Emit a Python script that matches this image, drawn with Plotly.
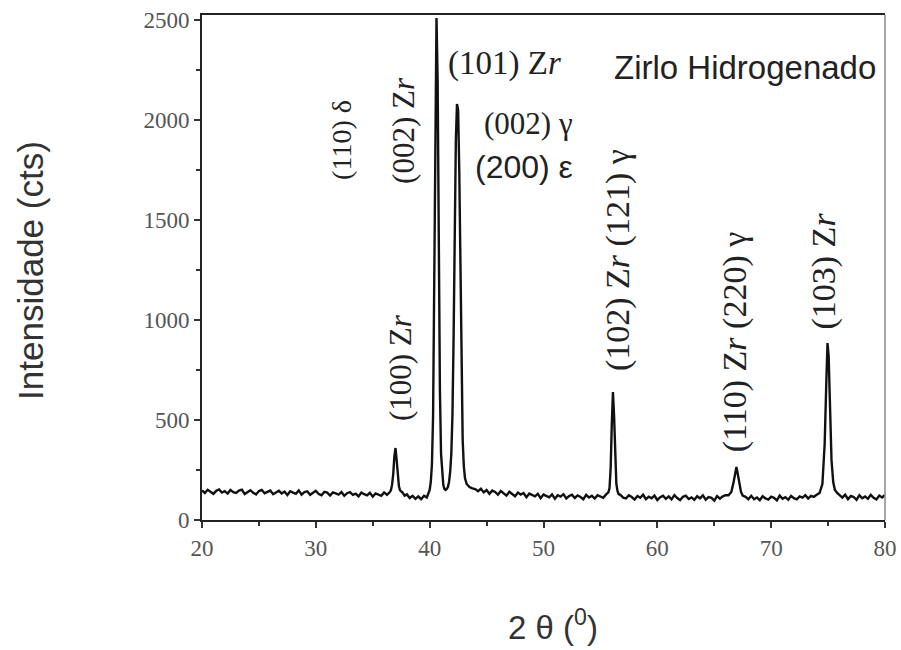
import plotly.graph_objects as go

# 2-theta positions (degrees) and measured counts of the XRD pattern
two_theta = [
    20.0, 20.25, 20.5, 20.75, 21.0, 21.25, 21.5, 21.75, 22.0, 22.25, 22.5, 22.75,
    23.0, 23.25, 23.5, 23.75, 24.0, 24.25, 24.5, 24.75, 25.0, 25.25, 25.5, 25.75,
    26.0, 26.25, 26.5, 26.75, 27.0, 27.25, 27.5, 27.75, 28.0, 28.25, 28.5, 28.75,
    29.0, 29.25, 29.5, 29.75, 30.0, 30.25, 30.5, 30.75, 31.0, 31.25, 31.5, 31.75,
    32.0, 32.25, 32.5, 32.75, 33.0, 33.25, 33.5, 33.75, 34.0, 34.25, 34.5, 34.75,
    35.0, 35.25, 35.5, 35.75, 36.0, 36.25, 36.5,
    36.6, 36.7, 36.8, 36.9, 37.0, 37.1, 37.2, 37.3, 37.4, 37.6, 37.8,
    38.0, 38.25, 38.5, 38.75, 39.0, 39.25, 39.5, 39.75, 40.0,
    40.1, 40.2, 40.3, 40.4, 40.5, 40.6, 40.7, 40.8, 40.9, 41.0, 41.1, 41.2, 41.3,
    41.4, 41.5, 41.6, 41.7, 41.8, 41.9, 42.0, 42.1, 42.2, 42.3, 42.4, 42.5, 42.6,
    42.7, 42.8, 42.9, 43.0, 43.1, 43.25, 43.5, 43.75, 44.0,
    44.25, 44.5, 44.75, 45.0, 45.25, 45.5, 45.75, 46.0, 46.25, 46.5, 46.75, 47.0,
    47.25, 47.5, 47.75, 48.0, 48.25, 48.5, 48.75, 49.0, 49.25, 49.5, 49.75, 50.0,
    50.25, 50.5, 50.75, 51.0, 51.25, 51.5, 51.75, 52.0, 52.25, 52.5, 52.75, 53.0,
    53.25, 53.5, 53.75, 54.0, 54.25, 54.5, 54.75, 55.0, 55.25, 55.5,
    55.7, 55.8, 55.9, 56.0, 56.1, 56.2, 56.3, 56.4, 56.5, 56.6, 56.75, 57.0,
    57.25, 57.5, 57.75, 58.0, 58.25, 58.5, 58.75, 59.0, 59.25, 59.5, 59.75, 60.0,
    60.25, 60.5, 60.75, 61.0, 61.25, 61.5, 61.75, 62.0, 62.25, 62.5, 62.75, 63.0,
    63.25, 63.5, 63.75, 64.0, 64.25, 64.5, 64.75, 65.0, 65.25, 65.5, 65.75, 66.0,
    66.25, 66.5, 66.7, 66.85, 66.95, 67.05, 67.2, 67.35, 67.5, 67.75, 68.0,
    68.25, 68.5, 68.75, 69.0, 69.25, 69.5, 69.75, 70.0, 70.25, 70.5, 70.75, 71.0,
    71.25, 71.5, 71.75, 72.0, 72.25, 72.5, 72.75, 73.0, 73.25, 73.5, 73.75, 74.0,
    74.25, 74.5, 74.7, 74.85, 74.95, 75.05, 75.15, 75.3, 75.45, 75.6, 75.8, 76.0,
    76.25, 76.5, 76.75, 77.0, 77.25, 77.5, 77.75, 78.0, 78.25, 78.5, 78.75, 79.0,
    79.25, 79.5, 79.75, 80.0,
]
counts = [
    148, 135, 151, 140, 131, 146, 153, 137, 144, 132, 150, 139,
    135, 147, 152, 130, 141, 149, 136, 128, 145, 150, 134, 140,
    147, 129, 138, 146, 133, 142, 125, 144, 137, 131, 148, 127,
    139, 143, 126, 135, 146, 130, 124, 141, 137, 122, 138, 133,
    127, 140, 121, 134, 139, 126, 132, 118, 137, 129, 123, 136,
    117, 133, 128, 121, 138, 126, 140,
    150, 178, 230, 320, 360, 300, 215, 168, 148, 138, 122,
    128, 110, 121, 106, 118, 104, 121, 113, 150,
    190, 280, 520, 1100, 2050, 2510, 2200, 1300, 650, 330, 220, 175, 155,
    150, 155, 165, 190, 240, 330, 520, 900, 1450, 1900, 2080, 2050, 1750,
    1200, 700, 400, 270, 210, 180, 165, 158, 155,
    144, 156, 138, 150, 131, 147, 140, 126, 145, 134, 122, 141,
    130, 119, 137, 127, 135, 114, 132, 124, 118, 131, 109, 127,
    121, 113, 128, 106, 124, 117, 129, 108, 120, 126, 110, 123,
    115, 104, 126, 112, 121, 107, 124, 116, 111, 128,
    138, 160, 260, 480, 640, 520, 300, 180, 145, 130, 126, 112,
    108, 124, 115, 102, 120, 111, 126, 104, 117, 109, 122, 100,
    114, 121, 106, 118, 103, 124, 110, 99, 116, 122, 105, 113,
    101, 119, 108, 123, 102, 115, 111, 97, 120, 107, 118, 124,
    124, 140, 190, 250, 265, 235, 175, 140, 122, 116, 104,
    121, 104, 113, 99, 119, 108, 102, 117, 111, 98, 122, 106,
    114, 101, 120, 109, 103, 118, 112, 124, 107, 121, 116, 126,
    135, 180, 380, 700, 885, 820, 560, 300, 190, 150, 135, 125,
    112, 127, 104, 120, 115, 101, 124, 109, 118, 106, 126, 111,
    103, 122, 113, 125,
]

# Reflection labels: text, 2-theta, counts, rotation, font family, size
peak_labels = ["(110) δ", "(002) Z<i>r</i>", "(100) Z<i>r</i>", "(101) Z<i>r</i>",
               "(002) γ", "(200) ε", "(102) Z<i>r</i> (121) γ",
               "(110) Z<i>r</i> (220) γ", "(103) Z<i>r</i>"]
label_x = [32.2, 37.65, 37.4, 46.6, 48.65, 48.3, 56.55, 66.85, 74.6]
label_y = [1900, 1950, 760, 2285, 1985, 1765, 1300, 890, 1245]
label_angle = [-90, -90, -90, 0, 0, 0, -90, -90, -90]
label_font = ["Liberation Serif"] * 5 + ["Liberation Sans"] + ["Liberation Serif"] * 3
label_size = [28, 31, 31, 33, 31, 32, 34, 34, 34]

x_ticks = [20, 30, 40, 50, 60, 70, 80]
y_ticks = [0, 500, 1000, 1500, 2000, 2500]

fig = go.Figure()
fig.add_trace(go.Scatter(
    x=two_theta, y=counts, mode="lines",
    line=dict(color="#111111", width=2.4),
    showlegend=False, hoverinfo="skip",
))

for txt, xv, yv, ang, fam, sz in zip(peak_labels, label_x, label_y, label_angle,
                                     label_font, label_size):
    fig.add_annotation(x=xv, y=yv, xref="x", yref="y", text=txt, showarrow=False,
                       textangle=ang, xanchor="center", yanchor="middle",
                       font=dict(family=fam, size=sz, color="#222222"))

fig.add_annotation(x=67.7, y=2265, xref="x", yref="y", text="Zirlo Hidrogenado",
                   showarrow=False, xanchor="center", yanchor="middle",
                   font=dict(family="Liberation Sans", size=33, color="#222222"))

# axis titles
fig.add_annotation(x=-0.252, y=0.495, xref="paper", yref="paper",
                   text="Intensidade (cts)", textangle=-90, showarrow=False,
                   xanchor="center", yanchor="middle",
                   font=dict(family="Liberation Sans", size=35, color="#333333"))
fig.add_annotation(x=0.514, y=-0.208, xref="paper", yref="paper",
                   text="2 θ (<sup>0</sup>)", showarrow=False,
                   xanchor="center", yanchor="middle",
                   font=dict(family="Liberation Sans", size=33, color="#333333"))

# right frame edge (lighter than the others)
fig.add_shape(type="line", xref="paper", yref="paper", x0=1, x1=1, y0=0, y1=1,
              line=dict(color="#888888", width=1.5))

fig.update_xaxes(
    range=[20, 80], tickvals=x_ticks, ticktext=[str(v) for v in x_ticks],
    showgrid=False, zeroline=False, automargin=False,
    showline=True, linecolor="#222222", linewidth=2, mirror=True,
    ticks="outside", ticklen=6, tickwidth=1.5, tickcolor="#333333",
    minor=dict(dtick=5, ticks="outside", ticklen=4, tickcolor="#333333"),
    tickfont=dict(family="Liberation Serif", size=23, color="#555555"),
)
fig.update_yaxes(
    range=[0, 2525], tickvals=y_ticks, ticktext=[str(v) for v in y_ticks],
    showgrid=False, zeroline=False, automargin=False,
    showline=True, linecolor="#222222", linewidth=2, mirror=False,
    ticks="outside", ticklen=6, tickwidth=1.5, tickcolor="#333333",
    minor=dict(dtick=250, ticks="outside", ticklen=4, tickcolor="#333333"),
    tickfont=dict(family="Liberation Serif", size=23, color="#555555"),
)

fig.update_layout(
    width=901, height=650,
    margin=dict(l=202, r=16, t=15, b=130),
    paper_bgcolor="white", plot_bgcolor="white",
)

fig.write_html("out.html")
